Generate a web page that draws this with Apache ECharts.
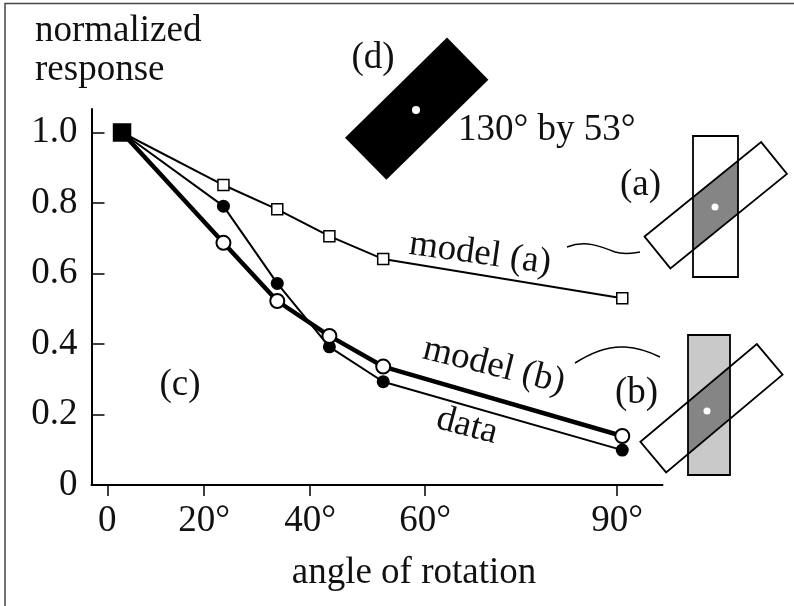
<!DOCTYPE html>
<html><head><meta charset="utf-8">
<script src="https://cdn.jsdelivr.net/npm/echarts@6/dist/echarts.min.js"></script>
<style>html,body{margin:0;padding:0;background:#fff}#c{width:794px;height:606px}</style>
</head><body><div id="c"></div>
<script>
// ---- values ----
const angles = [2.6, 20.5, 30, 39.2, 48.7, 90.9];
const modelA = [1.0, 0.851, 0.782, 0.706, 0.641, 0.530];
const dataResp = [1.0, 0.791, 0.572, 0.392, 0.293, 0.099];
const modelB = [1.0, 0.687, 0.522, 0.423, 0.336, 0.139];
const xTickValues = [0, 17.1, 35.8, 56.1, 90];
const xTickLabels = ['0', '20°', '40°', '60°', '90°'];
const yTickValues = [0, 0.2, 0.4, 0.6, 0.8, 1.0];
const yTickLabels = ['0', '0.2', '0.4', '0.6', '0.8', '1.0'];

const FONT = 'Liberation Serif';
const FS = 37;

function pts(vals, firstItem) {
  return angles.map((x, i) => i === 0 ? Object.assign({ value: [x, vals[i]] }, firstItem) : [x, vals[i]]);
}
function rectCorners(cx, cy, L, W, deg) {
  const a = deg * Math.PI / 180, ux = Math.cos(a), uy = -Math.sin(a), nx = Math.sin(a), ny = Math.cos(a);
  const h = L / 2, w = W / 2;
  return [
    [cx - h * ux - w * nx, cy - h * uy - w * ny],
    [cx + h * ux - w * nx, cy + h * uy - w * ny],
    [cx + h * ux + w * nx, cy + h * uy + w * ny],
    [cx - h * ux + w * nx, cy - h * uy + w * ny]
  ];
}
function bandClip(cx, cy, W, deg, x1, x2) {
  const a = deg * Math.PI / 180, s = Math.sin(a), c = Math.cos(a);
  const yAt = (x, sv) => cy + (sv - (x - cx) * s) / c;
  return [[x1, yAt(x1, -W / 2)], [x2, yAt(x2, -W / 2)], [x2, yAt(x2, W / 2)], [x1, yAt(x1, W / 2)]];
}
function txt(t, x, y, align, rotDeg) {
  return { type: 'text', x: x, y: y, rotation: (rotDeg || 0) * Math.PI / 180, z: 100,
    style: { text: t, fontSize: FS, fontFamily: FONT, fill: '#111', align: align || 'left', verticalAlign: 'middle' } };
}
function bez(x1, y1, c1x, c1y, c2x, c2y, x2, y2) {
  return { type: 'bezierCurve', shape: { x1: x1, y1: y1, cpx1: c1x, cpy1: c1y, cpx2: c2x, cpy2: c2y, x2: x2, y2: y2 },
    style: { fill: 'none', stroke: '#000', lineWidth: 1.5 }, z: 50 };
}
function inset(vx1, vy1, vx2, vy2, vfill, cx, cy, L, W, deg, dot) {
  return [
    { type: 'rect', shape: { x: vx1, y: vy1, width: vx2 - vx1, height: vy2 - vy1 }, style: { fill: vfill }, z: 50 },
    { type: 'polygon', shape: { points: bandClip(cx, cy, W, deg, vx1, vx2) }, style: { fill: '#858585' }, z: 51 },
    { type: 'polygon', shape: { points: rectCorners(cx, cy, L, W, deg) }, style: { fill: 'none', stroke: '#000', lineWidth: 1.8 }, z: 52 },
    { type: 'rect', shape: { x: vx1, y: vy1, width: vx2 - vx1, height: vy2 - vy1 }, style: { fill: 'none', stroke: '#000', lineWidth: 1.8 }, z: 52 },
    { type: 'circle', shape: { cx: dot[0], cy: dot[1], r: 3.5 }, style: { fill: '#fff' }, z: 53 }
  ];
}

const chart = echarts.init(document.getElementById('c'), null, { renderer: 'canvas' });
const graphics = [
  { type: 'polyline', shape: { points: [[5, 606], [5, 3.5], [794, 3.5]] }, style: { stroke: '#444', lineWidth: 1.5, fill: 'none' }, z: 1 },
  txt('normalized', 35, 31),
  txt('response', 35, 70),
  txt('angle of rotation', 414, 573, 'center'),
  txt('(d)', 373, 58, 'center'),
  txt('130° by 53°', 458, 130),
  txt('(a)', 620, 185),
  txt('(b)', 615, 393),
  txt('(c)', 180, 385, 'center'),
  txt('model (a)', 480, 254, 'center', -8),
  txt('model (b)', 494, 366, 'center', -14),
  txt('data', 467, 426, 'center', -15),
  { type: 'polygon', shape: { points: rectCorners(416.7, 108.7, 143, 59, 44.5) }, style: { fill: '#000' }, z: 50 },
  { type: 'circle', shape: { cx: 416, cy: 110, r: 4 }, style: { fill: '#fff' }, z: 51 },
  bez(567, 247, 585, 240, 600, 246, 615, 252),
  bez(615, 252, 625, 255, 633, 253, 640, 252),
  bez(575, 363, 592, 352, 610, 346, 625, 347),
  bez(625, 347, 640, 348, 652, 353, 660, 357)
].concat(
  inset(693, 136, 738, 277, '#fff', 715.75, 205.25, 150, 41, 39, [715, 207]),
  inset(688, 335, 730, 475, '#c9c9c9', 711.5, 408.25, 152, 40, 40, [707, 411])
);

chart.setOption({
  animation: false,
  backgroundColor: '#fff',
  grid: { left: 91.5, top: 109, width: 571, height: 376, containLabel: false },
  xAxis: {
    type: 'value', min: -2.79, max: 98.0,
    splitLine: { show: false },
    axisLine: { show: true, onZero: false, lineStyle: { color: '#000', width: 2 } },
    axisTick: { show: true, inside: false, length: 11, customValues: xTickValues, lineStyle: { color: '#000', width: 1.5 } },
    axisLabel: {
      customValues: xTickValues, margin: 18, color: '#111', fontSize: FS, fontFamily: FONT,
      formatter: v => { const i = xTickValues.findIndex(t => Math.abs(t - v) < 1e-6); return i >= 0 ? xTickLabels[i] : ''; }
    }
  },
  yAxis: {
    type: 'value', min: 0, max: 1.0667,
    splitLine: { show: false },
    axisLine: { show: true, onZero: false, lineStyle: { color: '#000', width: 2 } },
    axisTick: { show: true, inside: true, length: 13, customValues: yTickValues, lineStyle: { color: '#000', width: 1.5 } },
    axisLabel: {
      customValues: yTickValues, margin: 14, color: '#111', fontSize: FS, fontFamily: FONT,
      formatter: v => { const i = yTickValues.findIndex(t => Math.abs(t - v) < 1e-6); return i >= 0 ? yTickLabels[i] : ''; }
    }
  },
  series: [
    { name: 'data', type: 'line', z: 2, data: pts(dataResp, { symbol: 'none' }),
      symbol: 'circle', symbolSize: 13, itemStyle: { color: '#000' }, lineStyle: { color: '#000', width: 2 } },
    { name: 'model (b)', type: 'line', z: 3, data: pts(modelB, { symbol: 'none' }),
      symbol: 'circle', symbolSize: 14, itemStyle: { color: '#fff', borderColor: '#000', borderWidth: 2 }, lineStyle: { color: '#000', width: 4.5 } },
    { name: 'model (a)', type: 'line', z: 4, data: pts(modelA, { symbol: 'rect', symbolSize: 17, itemStyle: { color: '#000', borderColor: '#000' } }),
      symbol: 'rect', symbolSize: 11, itemStyle: { color: '#fff', borderColor: '#000', borderWidth: 1.5 }, lineStyle: { color: '#000', width: 2 } }
  ],
  graphic: graphics
});
</script></body></html>
